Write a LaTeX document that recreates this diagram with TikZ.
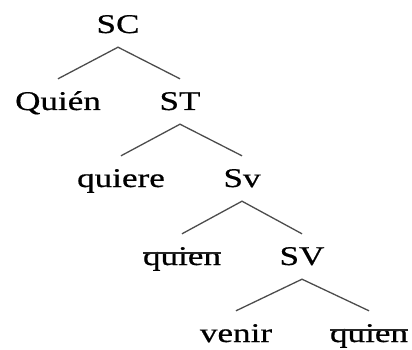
\documentclass[tikz,border=0pt]{standalone}
\usepackage{fontspec}
\setmainfont[FakeStretch=1.3,FakeBold=0.6]{Liberation Serif}
\usepackage{tikz}

\begin{document}
\begin{tikzpicture}[x=1pt,y=-1pt,
  cat/.style={anchor=base,inner xsep=0pt,inner ysep=14pt,text height=17pt,text depth=0pt,
    font=\fontsize{27}{30}\selectfont},
  branch/.style={draw=black!70,line width=1.3pt},
  strike/.style={draw=black!85,line width=1.8pt}]
\useasboundingbox (0,0) rectangle (412,350);
% categories
\node[cat] (sc) at (118,33) {SC};
\node[cat] (quien1) at (58,110) {Quién};
\node[cat] (st) at (180,110) {ST};
\node[cat] (quiere) at (121,187) {quiere};
\node[cat] (sv1) at (242,187) {Sv};
\node[cat] (quien2) at (182,265) {quien};
\node[cat] (sv2) at (302,265) {SV};
\node[cat] (venir) at (236,342) {venir};
\node[cat] (quien3) at (369,342) {quien};
% branches
\draw[branch] (quien1.north) -- (sc.south) -- (st.north);
\draw[branch] (quiere.north) -- (st.south) -- (sv1.north);
\draw[branch] (quien2.north) -- (sv1.south) -- (sv2.north);
\draw[branch] (venir.north) -- (sv2.south) -- (quien3.north);
% copies struck out
\draw[strike] ([yshift=12pt]quien2.base west) -- ([yshift=12pt]quien2.base east);
\draw[strike] ([yshift=12pt]quien3.base west) -- ([yshift=12pt]quien3.base east);
\end{tikzpicture}
\end{document}
